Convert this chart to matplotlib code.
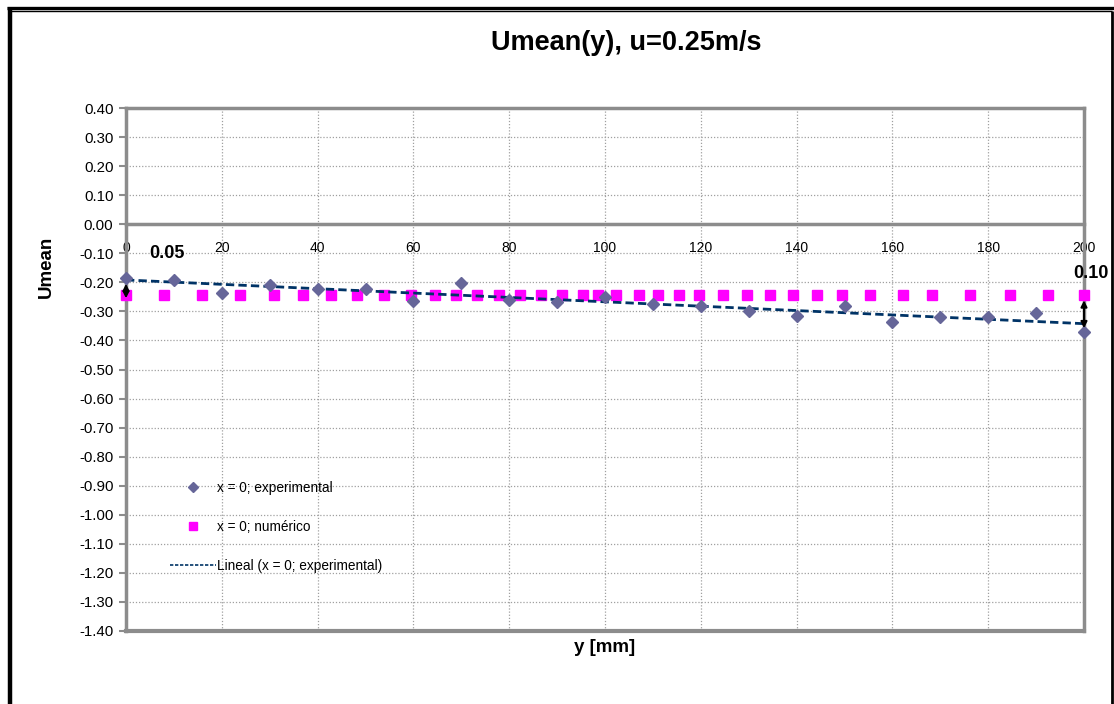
import numpy as np
import matplotlib
matplotlib.use("Agg")
import matplotlib.pyplot as plt
from matplotlib.lines import Line2D
from matplotlib import font_manager

# ---- data ----
y_exp = [0, 10, 20, 30, 40, 50, 60, 70, 80, 90, 100, 110, 120, 130, 140, 150, 160, 170, 180, 190, 200]
u_exp = [-0.185, -0.192, -0.235, -0.209, -0.223, -0.223, -0.264, -0.203, -0.262, -0.268, -0.249,
         -0.274, -0.281, -0.297, -0.316, -0.280, -0.335, -0.318, -0.318, -0.306, -0.370]

y_num = [0, 8.0, 15.8, 23.7, 30.8, 36.9, 42.7, 48.2, 53.9, 59.4, 64.6, 68.8, 73.3, 77.8, 82.2,
         86.7, 91.1, 95.5, 98.6, 102.4, 107.1, 111.1, 115.5, 119.7, 124.6, 129.6, 134.4, 139.3,
         144.3, 149.4, 155.3, 162.2, 168.2, 176.3, 184.5, 192.5, 200]
u_num = [-0.245] * len(y_num)

x_ticks = [0, 20, 40, 60, 80, 100, 120, 140, 160, 180, 200]
y_ticks = [0.40, 0.30, 0.20, 0.10, 0.00, -0.10, -0.20, -0.30, -0.40, -0.50, -0.60, -0.70,
           -0.80, -0.90, -1.00, -1.10, -1.20, -1.30, -1.40]

title = "Umean(y), u=0.25m/s"
xlabel = "y [mm]"
ylabel = "Umean"
labels = ["x = 0; experimental", "x = 0; numérico", "Lineal (x = 0; experimental)"]

# ---- fonts ----
avail = {f.name for f in font_manager.fontManager.ttflist}
narrow = "Liberation Sans Narrow" if "Liberation Sans Narrow" in avail else "Liberation Sans"
plt.rcParams['font.family'] = [narrow, "DejaVu Sans"]
is_narrow = narrow == "Liberation Sans Narrow"
fs_tick = 11.5 if is_narrow else 10.8
fs_title = 20 if is_narrow else 19.5
fs_leg = 10 if is_narrow else 9.8
fs_lab = 13.5

W, H = 1114, 704
fig = plt.figure(figsize=(W / 100, H / 100), dpi=100)
fig.patch.set_facecolor("white")

L, R, T, B = 126, 1084, 108, 631
ax = fig.add_axes([L / W, 1 - B / H, (R - L) / W, (B - T) / H])

gray = "#8c8c8c"
ax.set_xlim(0, 200)
ax.set_ylim(-1.40, 0.40)
ax.set_xticks(x_ticks)
ax.set_yticks(y_ticks)
ax.set_yticklabels([f"{v:.2f}" for v in y_ticks], fontsize=fs_tick)
ax.set_xticklabels([str(v) for v in x_ticks], fontsize=fs_tick + 0.5)
ax.grid(True, which="major", color="#a0a0a0", linestyle=(0, (1, 1.5)), linewidth=0.9)
ax.set_axisbelow(True)

for s in ["top", "right", "left"]:
    ax.spines[s].set_color(gray)
    ax.spines[s].set_linewidth(2.5)
ax.spines["bottom"].set_position(("data", 0))
ax.spines["bottom"].set_color(gray)
ax.spines["bottom"].set_linewidth(2.5)
ax.axhline(-1.40, color=gray, linewidth=3, clip_on=False, zorder=1)
ax.tick_params(axis="y", direction="out", length=5, width=1.5, color=gray, pad=4)
ax.tick_params(axis="x", direction="out", length=0, pad=12)

# trend line
coef = np.polyfit(y_exp, u_exp, 1)
xt = np.array([0, 200])
ax.plot(xt, np.polyval(coef, xt), linestyle=(0, (3, 1.5)), color="#003366",
        linewidth=2, zorder=4, label=labels[2])
ax.plot(y_num, u_num, linestyle="none", marker="s", markersize=7.5, color="#ff00ff",
        zorder=3, label=labels[1], clip_on=False)
ax.plot(y_exp, u_exp, linestyle="none", marker="D", markersize=6, color="#666699",
        zorder=5, label=labels[0], clip_on=False)

# annotation arrows
ax.annotate("", xy=(0, -0.205), xytext=(0, -0.255),
            arrowprops=dict(arrowstyle="<|-|>", color="black", lw=1.5, mutation_scale=9,
                            shrinkA=0, shrinkB=0), zorder=6)
ax.annotate("", xy=(200, -0.262), xytext=(200, -0.358),
            arrowprops=dict(arrowstyle="<|-|>", color="black", lw=1.5, mutation_scale=9,
                            shrinkA=0, shrinkB=0), zorder=6)
ax.text(8.5, -0.10, "0.05", fontsize=13, fontweight="bold", ha="center", va="center")
ax.text(201.5, -0.168, "0.10", fontsize=13, fontweight="bold", ha="center", va="center",
        clip_on=False)

# legend
h = [Line2D([], [], linestyle="none", marker="D", markersize=5, color="#666699"),
     Line2D([], [], linestyle="none", marker="s", markersize=6, color="#ff00ff"),
     Line2D([], [], linestyle=(0, (2, 1)), color="#003366", linewidth=1.2)]
leg = ax.legend(h, labels, loc="upper left", bbox_to_anchor=(163 / W, 1 - 474 / H),
                bbox_transform=fig.transFigure, frameon=False, fontsize=fs_leg,
                labelspacing=1.85, handlelength=3.4, handletextpad=0.1, borderpad=0)

# titles
fig.text(626 / W, 1 - 43 / H, title, fontsize=fs_title, fontweight="bold",
         ha="center", va="center")
fig.text(605 / W, 1 - 648 / H, xlabel, fontsize=fs_lab, fontweight="bold",
         ha="center", va="center")
fig.text(46 / W, 1 - 267 / H, ylabel, fontsize=fs_lab, fontweight="bold",
         ha="center", va="center", rotation=90)

# outer frame
def fl(x0, y0, x1, y1, lw):
    fig.add_artist(Line2D([x0 / W, x1 / W], [1 - y0 / H, 1 - y1 / H], color="black",
                          linewidth=lw, solid_capstyle="butt"))

fl(7, 8, 1114, 8, 2.4)
fl(9, 11.2, 1112, 11.2, 1.0)
fl(9.5, 6.5, 9.5, 704, 3.2)
fl(1111.5, 11, 1111.5, 704, 2.0)

fig.savefig("out.png", dpi=100, facecolor="white")
